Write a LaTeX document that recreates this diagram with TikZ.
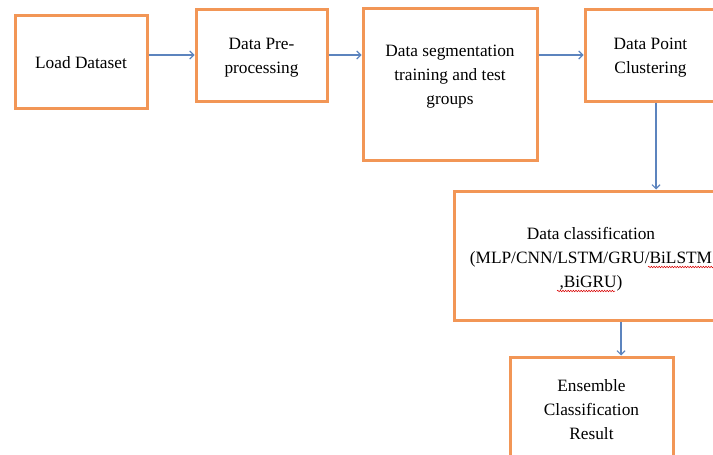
\documentclass[tikz,border=0pt]{standalone}
\usepackage{fontspec}
\setmainfont{Liberation Serif}
\usetikzlibrary{arrows.meta,calc,decorations.pathmorphing}
\definecolor{boxorange}{RGB}{242,150,86}
\definecolor{flowblue}{RGB}{92,132,190}
\tikzstyle{stepbox}=[rectangle,draw=boxorange,line width=3pt,fill=white,inner sep=0pt]
\tikzstyle{steptext}=[align=center,inner sep=0pt,font=\fontsize{17.3}{24}\selectfont]
\tikzstyle{flow} = [draw=flowblue,line width=1.1pt,-{Straight Barb[length=4pt,width=8pt]}]
\tikzstyle{spell} = [draw=red!85!black,line width=0.5pt,decorate,decoration={snake,amplitude=0.8pt,segment length=2.6pt}]

\begin{document}
\begin{tikzpicture}[x=1pt,y=-1pt]

  \clip (0,0) rectangle (713,455);
  \fill[white] (0,0) rectangle (713,455);

% boxes: name / centre / width / height
  \foreach \name/\pos/\w/\h in {load/{(81,61.5)}/132/93, pre/{(261.5,55)}/131/92, seg/{(450,84)}/174/152,
      clu/{(650.5,55)}/131/92, cls/{(591,255.5)}/274/129, res/{(591.5,408)}/163/102}
      \node[stepbox,minimum width=\w pt,minimum height=\h pt] (\name) at \pos {};

% texts
  \node[steptext] (loadtext) at (81,62.5) {Load Dataset};
  \node[steptext] (pretext) at (261.5,58) {Data Pre-\\processing};
  \node[steptext] (segtext) at (450,76.5) {Data segmentation\\training and test\\groups};
  \node[steptext] (clutext) at (650.5,58) {Data Point\\Clustering};
  \node[steptext] (clstext) at (591,259.5) {Data classification\\(MLP/CNN/LSTM/GRU/BiLSTM\\,BiGRU)};
  \node[steptext] (restext) at (591.5,409.5) {Ensemble\\Classification\\Result};

% spell check marks
  \draw[spell] (648,267) -- (716,267);
  \draw[spell] (557,291) -- (615,291);

% Connect steps
  \foreach \source/ \dest in {load/pre, pre/seg, seg/clu}
      \path[flow] (\source.east |- pre.west) -- (\dest.west |- pre.west);

  \coordinate (cluout) at ($(clu.south)+(5.5,0)$);
  \path[flow] (cluout) -- (cluout |- cls.north);
  \coordinate (clsout) at ($(cls.south)+(30,0)$);
  \path[flow] (clsout) -- (clsout |- res.north);

\end{tikzpicture}
\end{document}
